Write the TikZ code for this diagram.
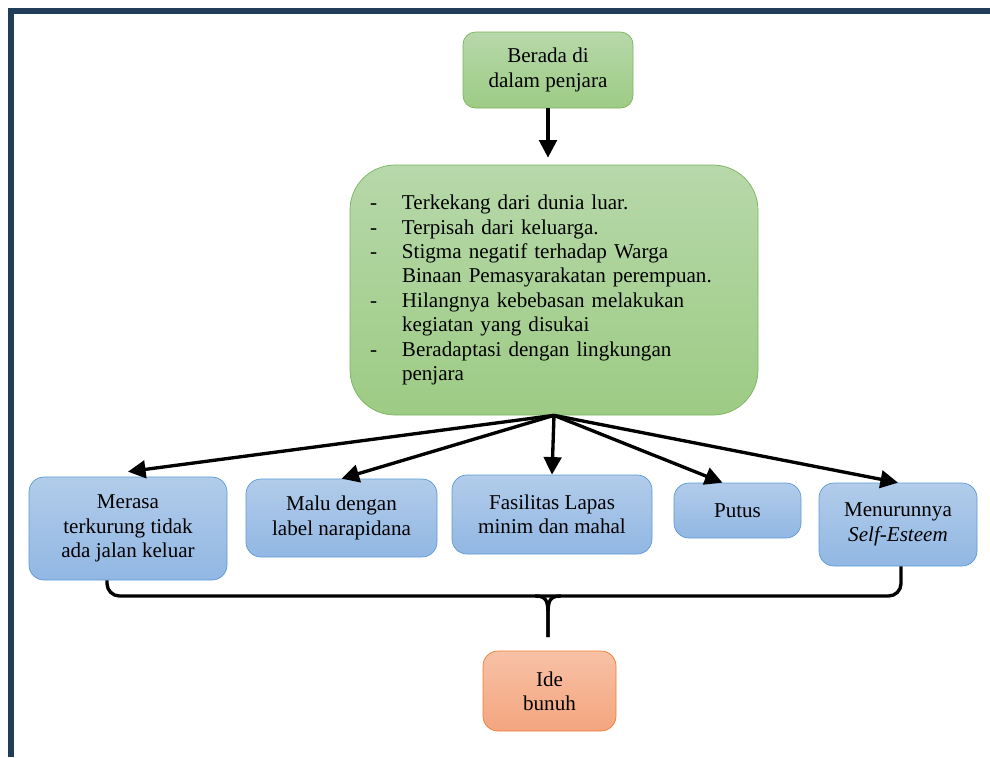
\documentclass[tikz,border=0pt]{standalone}
\usepackage{fontspec}
\setmainfont{Liberation Serif}
\usepackage{tikz}
\usetikzlibrary{arrows.meta}

\definecolor{navy}{RGB}{33,61,89}
\definecolor{greentop}{RGB}{183,216,170}
\definecolor{greenbot}{RGB}{157,203,132}
\definecolor{greenline}{RGB}{122,181,92}
\definecolor{bluetop}{RGB}{178,204,234}
\definecolor{bluebot}{RGB}{145,183,227}
\definecolor{blueline}{RGB}{91,155,213}
\definecolor{orangetop}{RGB}{247,193,165}
\definecolor{orangebot}{RGB}{244,165,127}
\definecolor{orangeline}{RGB}{237,125,49}

\tikzset{
  greenbox/.style={draw=greenline, top color=greentop, bottom color=greenbot, rounded corners=0.25cm, align=center, inner sep=0pt},
  bluebox/.style={draw=blueline, top color=bluetop, bottom color=bluebot, rounded corners=0.3cm, align=center, inner sep=0pt},
  orangebox/.style={draw=orangeline, top color=orangetop, bottom color=orangebot, rounded corners=0.3cm, align=center, inner sep=0pt},
  flow/.style={line width=1.9pt, -{Triangle[length=10pt,width=10pt]}},
  bracebar/.style={line width=1.9pt}
}

\begin{document}
\begin{tikzpicture}[font=\fontsize{12}{13.9}\selectfont]
\useasboundingbox (0,0) rectangle (19.8,-15.14);
\draw[navy, line width=3.4pt] (0.22,-15.14)--(0.22,-0.22)--(19.8,-0.22);

\node[greenbox, minimum width=3.4cm, minimum height=1.52cm] (top) at (10.96,-1.40) {Berada di\\dalam penjara};
\node[greenbox, rounded corners=0.9cm, minimum width=8.16cm, minimum height=5cm, text width=7.36cm, align=left] (big) at (11.08,-5.80) {%
\makebox[0.64cm][l]{-}Terkekang dari dunia luar.\\
\makebox[0.64cm][l]{-}Terpisah dari keluarga.\\
\makebox[0.64cm][l]{-}Stigma negatif terhadap Warga\\
\hspace*{0.64cm}Binaan Pemasyarakatan perempuan.\\
\makebox[0.64cm][l]{-}Hilangnya kebebasan melakukan\\
\hspace*{0.64cm}kegiatan yang disukai\\
\makebox[0.64cm][l]{-}Beradaptasi dengan lingkungan\\
\hspace*{0.64cm}penjara\\[0.35cm]};

\node[bluebox, minimum width=3.96cm, minimum height=2.06cm] (b1) at (2.56,-10.57) {Merasa\\terkurung tidak\\ada jalan keluar};
\node[bluebox, minimum width=3.82cm, minimum height=1.56cm] (b2) at (6.83,-10.36) {Malu dengan\\label narapidana};
\node[bluebox, minimum width=4.0cm, minimum height=1.58cm] (b3) at (11.04,-10.29) {Fasilitas Lapas\\minim dan mahal};
\node[bluebox, minimum width=2.54cm, minimum height=1.1cm] (b4) at (14.75,-10.21) {Putus};
\node[bluebox, minimum width=3.16cm, minimum height=1.66cm] (b5) at (17.96,-10.49) {Menurunnya\\\textit{Self-Esteem}};

\node[orangebox, minimum width=2.66cm, minimum height=1.6cm] (ide) at (10.99,-13.82) {Ide\\bunuh};

\draw[flow] (top.south)--([yshift=0.14cm]top.south |- big.north);
\draw[flow] (big.south)--([yshift=0.1cm]b1.north);
\draw[flow] (big.south)--(b2.north);
\draw[flow] (big.south)--(b3.north);
\draw[flow] (big.south)--([xshift=-0.3cm]b4.north);
\draw[flow] (big.south)--(b5.north);

\coordinate (bracemid) at (10.96,-11.92);
\coordinate (bracetip) at (10.96,-12.74);
\draw[bracebar, rounded corners=0.25cm] ([xshift=-0.42cm]b1.south) |- ([xshift=0.06cm]b5.south |- bracemid)--([xshift=0.06cm]b5.south);
\draw[bracebar] (bracetip)--(10.96,-12.3) .. controls (10.96,-12.0) and (10.92,-11.92) .. (10.7,-11.92);
\draw[bracebar] (bracetip)--(10.96,-12.3) .. controls (10.96,-12.0) and (11.0,-11.92) .. (11.22,-11.92);
\end{tikzpicture}
\end{document}
